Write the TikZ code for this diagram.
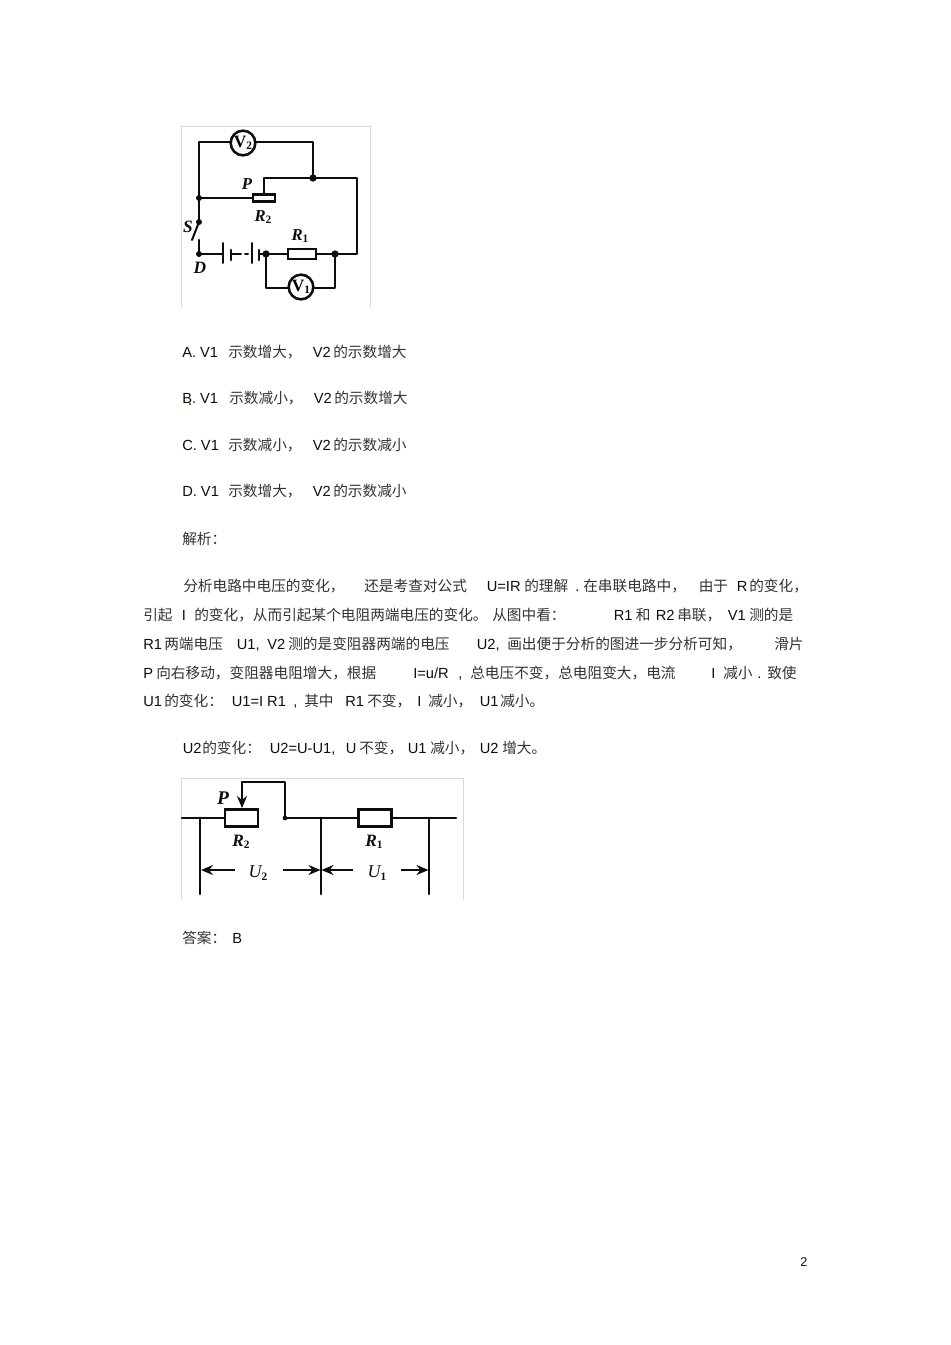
\documentclass[tikz,border=0pt]{standalone}
\usepackage{fontspec}
\setmainfont{Liberation Sans}
\newfontfamily\cjk{Noto Sans CJK SC}
\newfontfamily\lab{Liberation Serif}[BoldFont={Liberation Serif Bold},ItalicFont={Liberation Serif Italic},BoldItalicFont={Liberation Serif Bold Italic}]
\usetikzlibrary{arrows.meta}
\definecolor{ink}{gray}{0.05}
\definecolor{hanink}{gray}{0.2}
\definecolor{frame}{gray}{0.85}
\tikzset{
 wire/.style={line width=2.05pt,draw=ink,line cap=round,line join=round},
 thin wire/.style={line width=1.5pt,draw=ink,line cap=round},
 frameline/.style={line width=0.6pt,draw=frame},
 dotn/.style={circle,fill=ink,inner sep=0pt,minimum size=5.5pt},
 meter/.style={circle,draw=ink,line width=1.9pt,fill=white,inner sep=0pt,minimum size=18.5pt,font=\lab\bfseries\fontsize{13}{13}\selectfont},
 res/.style={rectangle,draw=ink,line width=1.9pt,fill=white,inner sep=0pt},
 clabel/.style={inner sep=0pt,text=ink,font=\lab\bfseries\itshape\fontsize{12.5}{12.5}\selectfont},
 arr/.style={line width=1.7pt,draw=ink,-{Stealth[length=9pt,width=7.5pt]}},
 tx/.style={anchor=base west,inner sep=0pt,text=ink,font=\fontsize{11}{11}\selectfont},
 hx/.style={anchor=base west,inner sep=0pt,text=hanink,font=\cjk\fontsize{11}{11}\selectfont},
}
\newcommand{\sub}[1]{\raisebox{-0.15em}{\fontsize{8.5}{8.5}\selectfont\bfseries\upshape #1}}
\begin{document}
\begin{tikzpicture}[x=0.75pt,y=-0.75pt]
\path[use as bounding box,fill=white] (0,0) rectangle (950,1345);

% ---------- first circuit ----------
\coordinate (f1a) at (181,307); \coordinate (f1b) at (181,126); \coordinate (f1c) at (370,126); \coordinate (f1d) at (370,307);
\draw[frameline] (f1a) -- (f1b) -- (f1c) -- (f1d);
\coordinate (tl) at (199,142);
\coordinate (tr) at (313,142);
\coordinate (rt) at (357,178);
\coordinate (rb) at (357,254);
\coordinate (sl) at (264,178);
\coordinate (v1l) at (266,288);
\coordinate (v1r) at (335,288);
\coordinate (bladeend) at (192,240);
\coordinate (ctop) at (199,240);
\coordinate (p1) at (223,254);
\coordinate (p1t) at (223,243); \coordinate (p1b) at (223,263);
\coordinate (p2t) at (231,250); \coordinate (p2b) at (231,260);
\coordinate (d1a) at (238,254); \coordinate (d1b) at (241,254);
\coordinate (d2a) at (245,254); \coordinate (d2b) at (248,254);
\coordinate (p3t) at (252,243); \coordinate (p3b) at (252,263);
\coordinate (p4t) at (259,250); \coordinate (p4b) at (259,260);
\coordinate (p4m) at (259,254);
\node[res,minimum width=16.5pt,minimum height=5.5pt] (R2a) at (264,198) {};
\node[res,minimum width=21pt,minimum height=7.5pt] (R1a) at (302,254) {};
\node[dotn] (jtop) at (313,178) {};
\node[dotn,minimum size=4.5pt] (jmid) at (199,198) {};
\node[dotn,minimum size=4.5pt] (jsw) at (199,222) {};
\node[dotn,minimum size=4.5pt] (jd) at (199,254) {};
\node[dotn] (jl) at (266,254) {};
\node[dotn] (jr) at (335,254) {};
\draw[wire] (jsw.center) -- (jmid.center) -- (tl) -- (tr) -- (jtop.center);
\draw[wire] (R2a.north) -- (sl) -- (rt) -- (rb) -- (jr.center);
\draw[wire] (jmid.center) -- (R2a.west);
\draw[thin wire] (jsw.center) -- (bladeend);
\draw[wire] (ctop) -- (jd.center);
\draw[thin wire] (jd.center) -- (p1);
\draw[thin wire] (p1t) -- (p1b);
\draw[wire] (p2t) -- (p2b);
\draw[thin wire] (p2t |- p1) -- (d1a);
\draw[thin wire] (d1a) -- (d1b);
\draw[thin wire] (d2a) -- (d2b);
\draw[thin wire] (p3t) -- (p3b);
\draw[wire] (p4t) -- (p4b);
\draw[thin wire] (p4m) -- (jl.center);
\draw[wire] (jl.center) -- (R1a.west);
\draw[wire] (R1a.east) -- (jr.center);
\draw[wire] (jl.center) -- (v1l) -- (v1r) -- (jr.center);
\node[meter] (V2) at (243,143) {V\sub{2}};
\node[meter] (V1) at (301,287) {V\sub{1}};
\node[clabel] (lP1) at (247,184) {P};
\node[clabel] (lR2a) at (263,217) {R\sub{2}};
\node[clabel,font=\lab\bfseries\itshape\fontsize{13}{13}\selectfont] (lS) at (188,227) {S};
\node[clabel,font=\lab\bfseries\itshape\fontsize{13}{13}\selectfont] (lD) at (200,268) {D};
\node[clabel] (lR1a) at (300,236) {R\sub{1}};

% ---------- option lines ----------
\node[tx] (a1) at (182,357) {A. V1};
\node[hx] (a2) at (228,357) {示数增大，};
\node[tx] (a3) at (312.5,357) {V2};
\node[hx] (a4) at (333,357) {的示数增大};
\node[tx] (b1) at (182,403) {B. V1};
\node[hx] (b2) at (229,403) {示数减小，};
\node[tx] (b3) at (313.5,403) {V2};
\node[hx] (b4) at (334,403) {的示数增大};
\fill[orange!60!green!70!black] (188.5,402.5) rectangle (191,405);
\node[tx] (c1) at (182,450) {C. V1};
\node[hx] (c2) at (228,450) {示数减小，};
\node[tx] (c3) at (312.5,450) {V2};
\node[hx] (c4) at (333,450) {的示数减小};
\node[tx] (d1) at (182,496) {D. V1};
\node[hx] (d2) at (228,496) {示数增大，};
\node[tx] (d3) at (312.5,496) {V2};
\node[hx] (d4) at (333,496) {的示数减小};
\node[hx] (j1) at (182,544) {解析：};

% ---------- paragraph ----------
\node[hx] (l1a) at (183,591) {分析电路中电压的变化，};
\node[hx] (l1b) at (364,591) {还是考查对公式};
\node[tx] (l1c) at (486.5,591) {U=IR};
\node[hx] (l1d) at (524,591) {的理解};
\node[tx] (l1e) at (575,591) {.};
\node[hx] (l1f) at (583,591) {在串联电路中，};
\node[hx] (l1g) at (698.5,591) {由于};
\node[tx] (l1h) at (736.5,591) {R};
\node[hx] (l1i) at (749,591) {的变化，};

\node[hx] (l2a) at (143,620) {引起};
\node[tx] (l2b) at (181.5,620) {I};
\node[hx] (l2c) at (194,620) {的变化，从而引起某个电阻两端电压的变化。};
\node[hx] (l2d) at (492,620) {从图中看：};
\node[tx] (l2e) at (613.5,620) {R1};
\node[hx] (l2f) at (635.5,620) {和};
\node[tx] (l2g) at (655.5,620) {R2};
\node[hx] (l2h) at (677,620) {串联，};
\node[tx] (l2i) at (727.5,620) {V1};
\node[hx] (l2j) at (749,620) {测的是};

\node[tx] (l3a) at (143,649) {R1};
\node[hx] (l3b) at (164,649) {两端电压};
\node[tx] (l3c) at (236.5,649) {U1,};
\node[tx] (l3d) at (267,649) {V2};
\node[hx] (l3e) at (288,649) {测的是变阻器两端的电压};
\node[tx] (l3f) at (476.5,649) {U2,};
\node[hx] (l3g) at (507,649) {画出便于分析的图进一步分析可知，};
\node[hx] (l3h) at (774,649) {滑片};

\node[tx] (l4a) at (143,678) {P};
\node[hx] (l4b) at (156,678) {向右移动，变阻器电阻增大，根据};
\node[tx] (l4c) at (413,678) {I=u/R};
\node[tx] (l4d) at (458,678) {,};
\node[hx] (l4e) at (470,678) {总电压不变，总电阻变大，电流};
\node[tx] (l4f) at (711,678) {I};
\node[hx] (l4g) at (723,678) {减小};
\node[tx] (l4h) at (757,678) {.};
\node[hx] (l4i) at (767,678) {致使};

\node[tx] (l5a) at (143,706) {U1};
\node[hx] (l5b) at (164,706) {的变化：};
\node[tx] (l5c) at (231.5,706) {U1=I R1};
\node[tx] (l5d) at (293,706) {,};
\node[hx] (l5e) at (304,706) {其中};
\node[tx] (l5f) at (345,706) {R1};
\node[hx] (l5g) at (367,706) {不变，};
\node[tx] (l5h) at (417,706) {I};
\node[hx] (l5i) at (428,706) {减小，};
\node[tx] (l5j) at (479.5,706) {U1};
\node[hx] (l5k) at (500,706) {减小。};

\node[tx] (l6a) at (182.5,753) {U2};
\node[hx] (l6b) at (202,753) {的变化：};
\node[tx] (l6c) at (269.5,753) {U2=U-U1,};
\node[tx] (l6d) at (345.5,753) {U};
\node[hx] (l6e) at (359,753) {不变，};
\node[tx] (l6f) at (407.5,753) {U1};
\node[hx] (l6g) at (430,753) {减小，};
\node[tx] (l6h) at (479.5,753) {U2};
\node[hx] (l6i) at (502,753) {增大。};

% ---------- second circuit ----------
\coordinate (f2a) at (181,900); \coordinate (f2b) at (181,778); \coordinate (f2c) at (463,778); \coordinate (f2d) at (463,900);
\draw[frameline] (f2a) -- (f2b) -- (f2c) -- (f2d);
\coordinate (wl) at (182,818);
\coordinate (wr) at (456,818);
\coordinate (b200t) at (200,818); \coordinate (b200b) at (200,894);
\coordinate (b321t) at (321,818); \coordinate (b321b) at (321,894);
\coordinate (b429t) at (429,818); \coordinate (b429b) at (429,894);
\coordinate (tp1) at (285,782); \coordinate (tp2) at (242,782);
\coordinate (a1s) at (235,870); \coordinate (a1e) at (201,870);
\coordinate (a2s) at (283,870); \coordinate (a2e) at (320.5,870);
\coordinate (a3s) at (353,870); \coordinate (a3e) at (321.5,870);
\coordinate (a4s) at (401,870); \coordinate (a4e) at (428.5,870);
\node[res,minimum width=24.5pt,minimum height=13pt] (R2b) at (241.5,818) {};
\node[res,minimum width=25pt,minimum height=13pt] (R1b) at (375,818) {};
\node[dotn,minimum size=3.5pt] (jb) at (285,818) {};
\draw[wire] (wl) -- (R2b.west);
\draw[wire] (jb.center) -- (R1b.west);
\draw[wire] (R1b.east) -- (wr);
\draw[wire] (b200t) -- (b200b);
\draw[wire] (b321t) -- (b321b);
\draw[wire] (b429t) -- (b429b);
\draw[wire] (jb.center) -- (tp1) -- (tp2);
\draw[arr,line cap=round] (tp2) -- (R2b.north -| tp2);
\draw[arr] (a1s) -- (a1e);
\draw[arr] (a2s) -- (a2e);
\draw[arr] (a3s) -- (a3e);
\draw[arr] (a4s) -- (a4e);
\node[clabel,font=\lab\bfseries\itshape\fontsize{14.5}{14.5}\selectfont] (lP2) at (223,798) {P};
\node[clabel,font=\lab\bfseries\itshape\fontsize{13}{13}\selectfont] (lR2b) at (241,842) {R\sub{2}};
\node[clabel,font=\lab\bfseries\itshape\fontsize{13}{13}\selectfont] (lR1b) at (374,842) {R\sub{1}};
\node[clabel,font=\lab\itshape\fontsize{13.5}{13.5}\selectfont] (lU2) at (258,873) {U\sub{2}};
\node[clabel,font=\lab\itshape\fontsize{13.5}{13.5}\selectfont] (lU1) at (377,873) {U\sub{1}};

% ---------- answer and page number ----------
\node[hx] (ans) at (182,943) {答案：};
\node[tx] (ansb) at (232,943) {B};
\node[tx,font=\fontsize{9.5}{9.5}\selectfont] (pg) at (800,1266) {2};
\end{tikzpicture}
\end{document}
